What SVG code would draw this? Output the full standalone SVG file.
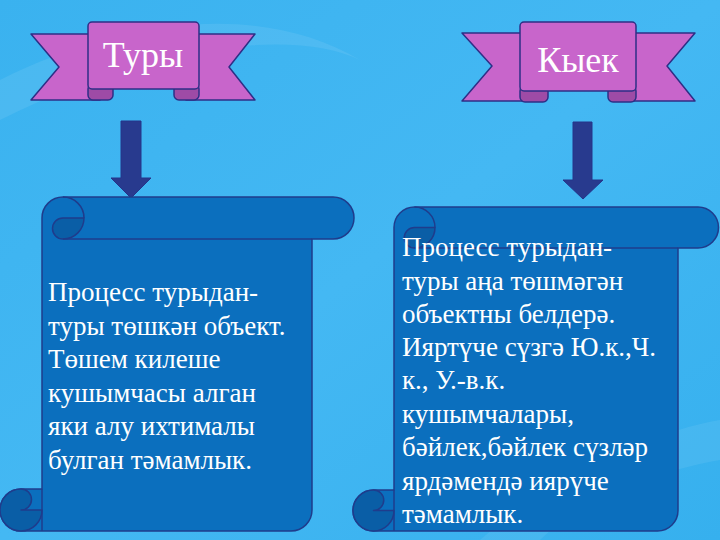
<svg xmlns="http://www.w3.org/2000/svg" width="720" height="540" viewBox="0 0 720 540">
<defs>
<linearGradient id="bg" x1="0" y1="0" x2="1" y2="1">
<stop offset="0" stop-color="#3AB2EF"/>
<stop offset="0.5" stop-color="#44B8F3"/>
<stop offset="1" stop-color="#36B0EE"/>
</linearGradient>
</defs>
<style>
.rib{fill:#C865CB;stroke:#2E2F86;stroke-width:1.5;stroke-linejoin:round}
.curl{fill:#9E4BA6;stroke:#2E2F86;stroke-width:1.5}
.ttl{font-size:36px;fill:#FFFFFF;text-anchor:middle}
.arr{fill:#283A8E;stroke:#24348A;stroke-width:1}
.scr{fill:#0B6FBE;stroke:#1F3C8C;stroke-width:1.5;stroke-linejoin:round}
.dk{fill:#0A5EA6;stroke:#1F3C8C;stroke-width:1.5;stroke-linejoin:round}
.ln{fill:none;stroke:#1F3C8C;stroke-width:1.5}
.body{font-size:27px;fill:#FFFFFF}
</style>
<rect x="0" y="0" width="720" height="540" fill="url(#bg)"/>
<path d="M0,80 C120,20 260,0 360,60 C300,30 160,40 0,120 Z" fill="#FFFFFF" opacity="0.08"/>
<path d="M480,540 C560,470 660,430 720,420 L720,460 C660,470 580,500 540,540 Z" fill="#FFFFFF" opacity="0.07"/>

<g id="node-tury">
<path class="rib" d="M31,34 L100,34 L100,100 L31,100 L59,67 Z"/>
<path class="rib" d="M255,34 L186,34 L186,100 L255,100 L229,67 Z"/>
<rect class="curl" x="88" y="84" width="25" height="16" rx="5"/>
<rect class="curl" x="174" y="84" width="25" height="16" rx="5"/>
<rect class="rib" x="88" y="22" width="111" height="67" rx="4"/>
<text class="ttl" x="143" y="67" font-family="Liberation Serif, Times New Roman, serif">Туры</text>
</g>

<g id="node-kyek">
<path class="rib" d="M462,33 L532,33 L532,101 L462,101 L492,66 Z"/>
<path class="rib" d="M695,33 L624,33 L624,101 L695,101 L667,66 Z"/>
<rect class="curl" x="520" y="86" width="28" height="16" rx="5"/>
<rect class="curl" x="608" y="86" width="28" height="16" rx="5"/>
<rect class="rib" x="520" y="22" width="116" height="69" rx="4"/>
<text class="ttl" x="578" y="72" font-family="Liberation Serif, Times New Roman, serif">Кыек</text>
</g>

<g id="connectors">
<path class="arr" d="M121,121 L141,121 L141,178 L151,178 L131,198 L111,178 L121,178 Z"/>
<path class="arr" d="M573,122 L592,122 L592,180 L603,180 L583,199 L563,180 L573,180 Z"/>
</g>

<g id="node-scroll-left">
<path class="scr" d="M21,531 A21,21 0 0 1 21,489 L42,489 L42,218 A21,21 0 0 1 63,197 L333,197 A21,21 0 0 1 333,239 L312,239 L312,510 A21,21 0 0 1 291,531 Z"/>
<path class="dk" d="M63,218 L84,218 A21,21 0 0 1 63,239 A10.5,10.5 0 0 1 63,218 Z"/>
<path class="ln" d="M63,197 A21,21 0 0 1 84,218"/>
<path class="ln" d="M63,239 L312,239"/>
<path class="dk" d="M21,531 A21,21 0 0 1 21,489 A10.5,10.5 0 0 1 21,510 L42,510 A21,21 0 0 1 21,531 Z"/>
<path class="ln" d="M42,489 L42,531"/>
<text class="body" x="48" font-family="Liberation Serif, Times New Roman, serif"><tspan x="48" y="301">Процесс турыдан-</tspan><tspan x="48" y="334.5">туры төшкән объект.</tspan><tspan x="48" y="368">Төшем килеше</tspan><tspan x="48" y="401.5">кушымчасы алган</tspan><tspan x="48" y="435">яки алу ихтималы</tspan><tspan x="48" y="468.5">булган тәмамлык.</tspan></text>
</g>

<g id="node-scroll-right">
<path class="scr" d="M373.5,531 A20.5,20.5 0 0 1 373.5,490 L394,490 L394,227.5 A20.5,20.5 0 0 1 414.5,207 L698,207 A20.5,20.5 0 0 1 698,248 L678,248 L678,510.5 A20.5,20.5 0 0 1 657.5,531 Z"/>
<path class="dk" d="M414.5,227.5 L435,227.5 A20.5,20.5 0 0 1 414.5,248 A10.25,10.25 0 0 1 414.5,227.5 Z"/>
<path class="ln" d="M414.5,207 A20.5,20.5 0 0 1 435,227.5"/>
<path class="ln" d="M414.5,248 L678,248"/>
<path class="dk" d="M373.5,531 A20.5,20.5 0 0 1 373.5,490 A10.25,10.25 0 0 1 373.5,510.5 L394,510.5 A20.5,20.5 0 0 1 373.5,531 Z"/>
<path class="ln" d="M394,490 L394,531"/>
<text class="body" x="402" font-family="Liberation Serif, Times New Roman, serif"><tspan x="402" y="256">Процесс турыдан-</tspan><tspan x="402" y="289.5">туры аңа төшмәгән</tspan><tspan x="402" y="323">объектны белдерә.</tspan><tspan x="402" y="356">Ияртүче сүзгә Ю.к.,Ч.</tspan><tspan x="402" y="389">к., У.-в.к.</tspan><tspan x="402" y="422.5">кушымчалары,</tspan><tspan x="402" y="456">бәйлек,бәйлек сүзләр</tspan><tspan x="402" y="489.5">ярдәмендә иярүче</tspan><tspan x="402" y="523">тәмамлык.</tspan></text>
</g>
</svg>
